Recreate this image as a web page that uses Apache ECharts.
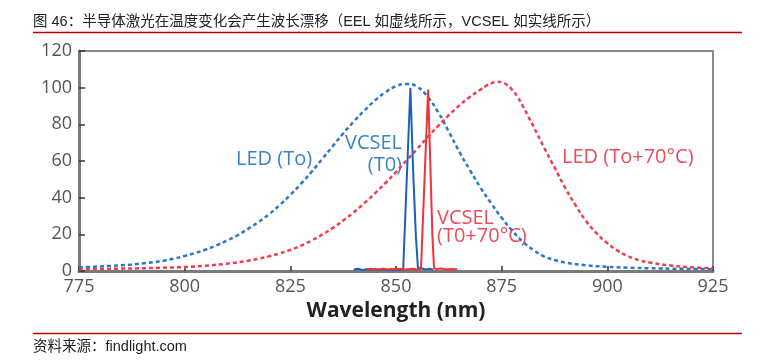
<!DOCTYPE html>
<html>
<head>
<meta charset="utf-8">
<script src="https://cdn.jsdelivr.net/npm/echarts@6/dist/echarts.min.js"></script>
<style>html,body{margin:0;padding:0;background:#fff;}#c{width:763px;height:360px;}</style>
</head>
<body>
<div id="c"></div>
<script>
// ---- data ----
var xTicks = [775, 800, 825, 850, 875, 900, 925];
var yTicks = [0, 20, 40, 60, 80, 100, 120];

var ledToX = [775,777.5,780,782.5,785,787.5,790,792.5,795,797.5,800,802.5,805,807.5,810,812.5,815,817.5,820,822.5,825,827.5,830,832.5,835,837.5,840,842.5,845,847.5,850,852.5,855,857.5,860,862.5,865,867.5,870,872.5,875,877.5,880,882.5,885,887.5,890,895,900,905,910,917.5,925];
var ledToY = [2,2.2,2.5,2.8,3.2,3.6,4.1,4.8,5.6,6.8,8.2,9.8,11.7,14,16.6,19.5,23,26.8,31,36,41.5,47.5,54,61,68,75,81.5,87.5,93,97.5,100.8,102,100.5,95,86.5,76,65,55,45.5,37,29,22,16,11.5,8,6,4.6,3.1,2.3,1.8,1.5,1.2,1];

var ledHotX = [775,780,785,790,795,800,805,810,815,817.5,820,822.5,825,827.5,830,832.5,835,837.5,840,842.5,845,847.5,850,852.5,855,857.5,860,862.5,865,867.5,870,871.25,872.5,873.75,875,876.25,877.5,878.75,880,881.25,882.5,885,887.5,890,892.5,895,897.5,900,902.5,905,907.5,910,915,920,925];
var ledHotY = [1,1.1,1.3,1.5,1.8,2.2,2.9,4,5.6,6.7,8.0,9.6,11.5,13.8,16.6,19.8,23.4,27.5,32,37,42.3,48,54,60.3,66.6,73,79.2,85,90.3,95,99,100.9,102.3,103.2,103,101.5,98.8,95,90,84.5,79,67.5,56.5,45.5,35.8,27.2,20.5,15.2,11,8,5.9,4.6,3,2,1.5];

var vcselToX = [840,841,842,843,844,845,846,847,848,849,850,851,851.7,853.4,854.1,854.7,855.2,855.6,856,857,858,858.8];
var vcselToY = [0.8,1.2,0.6,1.0,0.7,1.1,0.6,0.9,0.5,0.8,0.6,0.7,1,100,52,19,1.5,1,1.5,0.8,1.2,0.7];

var vcselHotX = [843,844,845,846,847,848,849,850,851,852,853,854,855,855.9,857.6,858.2,858.6,859.0,859.5,860,861,862,863,864,864.5];
var vcselHotY = [0.8,1.2,0.7,1.0,1.3,0.8,1.1,0.9,1.2,0.8,1.0,1.2,0.8,1,99,52,20,1.5,1,1.2,1.3,0.8,1.1,0.9,1.0];

var titleText = '图 46：半导体激光在温度变化会产生波长漂移（EEL 如虚线所示，VCSEL 如实线所示）';
var sourceText = '资料来源：findlight.com';
var xName = 'Wavelength (nm)';

function pairs(xs, ys){ return xs.map(function(x,i){ return [x, ys[i]]; }); }

var chart = echarts.init(document.getElementById('c'), null, {renderer:'canvas'});
var labelFont = '20px "Open Sans", "Noto Sans", sans-serif';
var cnFont = '"Liberation Sans", "Noto Sans CJK SC", sans-serif';
var option = {
  animation: false,
  backgroundColor: '#fff',
  grid: {left: 79, right: 50, top: 51, bottom: 89, show: true, borderColor: '#8a8a8a', borderWidth: 2, backgroundColor: 'transparent'},
  xAxis: {
    type: 'value', min: xTicks[0], max: xTicks[xTicks.length-1], interval: 25,
    name: xName, nameLocation: 'middle', nameGap: 29,
    nameTextStyle: {fontFamily: '"Open Sans", "Noto Sans", sans-serif', fontWeight: 'bold', fontSize: 21, color: '#222'},
    axisLine: {show: true, lineStyle: {color: '#7a7a7a', width: 3}},
    axisTick: {show: true, inside: true, length: 5, lineStyle: {color: '#333', width: 1.5}},
    axisLabel: {color: '#555', fontSize: 18, fontFamily: '"Open Sans", "Noto Sans", sans-serif', margin: 7},
    splitLine: {show: false}
  },
  yAxis: {
    type: 'value', min: yTicks[0], max: yTicks[yTicks.length-1], interval: 20,
    axisLine: {show: true, lineStyle: {color: '#7a7a7a', width: 3}},
    axisTick: {show: true, inside: true, length: 6, lineStyle: {color: '#333', width: 1.5}},
    axisLabel: {color: '#555', fontSize: 18, fontFamily: '"Open Sans", "Noto Sans", sans-serif', margin: 7},
    splitLine: {show: false}
  },
  series: [
    {type: 'line', name: 'LED (To)', data: pairs(ledToX, ledToY), smooth: true, symbol: 'none',
     lineStyle: {color: '#2a78c6', width: 2.5, type: [4, 3]}},
    {type: 'line', name: 'LED (To+70°C)', data: pairs(ledHotX, ledHotY), smooth: true, symbol: 'none',
     lineStyle: {color: '#ee3f4f', width: 2.5, type: [4, 3]}},
    {type: 'line', name: 'VCSEL (T0)', data: pairs(vcselToX, vcselToY), symbol: 'none',
     lineStyle: {color: '#1a62b8', width: 2}},
    {type: 'line', name: 'VCSEL (T0+70°C)', data: pairs(vcselHotX, vcselHotY), symbol: 'none',
     lineStyle: {color: '#f0323c', width: 2}}
  ],
  graphic: [
    {type: 'text', style: {text: titleText, x: 33, y: 22, verticalAlign: 'middle', fill: '#222', font: '14.5px ' + cnFont}},
    {type: 'line', shape: {x1: 33, y1: 32.5, x2: 742, y2: 32.5}, style: {stroke: '#c00000', lineWidth: 1.5}},
    {type: 'line', shape: {x1: 33, y1: 333.5, x2: 742, y2: 333.5}, style: {stroke: '#c00000', lineWidth: 1.5}},
    {type: 'text', style: {text: sourceText, x: 33, y: 347, verticalAlign: 'middle', fill: '#222', font: '14.5px ' + cnFont}},
    {type: 'text', style: {text: 'LED (To)', x: 236, y: 159, verticalAlign: 'middle', fill: '#3b82c8', font: labelFont}},
    {type: 'text', style: {text: 'VCSEL', x: 402, y: 143, align: 'right', verticalAlign: 'middle', fill: '#3b82c8', font: labelFont}},
    {type: 'text', style: {text: '(T0)', x: 402, y: 165, align: 'right', verticalAlign: 'middle', fill: '#3b82c8', font: labelFont}},
    {type: 'text', style: {text: 'VCSEL', x: 437, y: 218, verticalAlign: 'middle', fill: '#ea4d5a', font: labelFont}},
    {type: 'text', style: {text: '(T0+70°C)', x: 437, y: 236, verticalAlign: 'middle', fill: '#ea4d5a', font: labelFont}},
    {type: 'text', style: {text: 'LED (To+70°C)', x: 562, y: 157, verticalAlign: 'middle', fill: '#ea4d5a', font: labelFont}}
  ]
};
chart.setOption(option);
</script>
</body>
</html>
